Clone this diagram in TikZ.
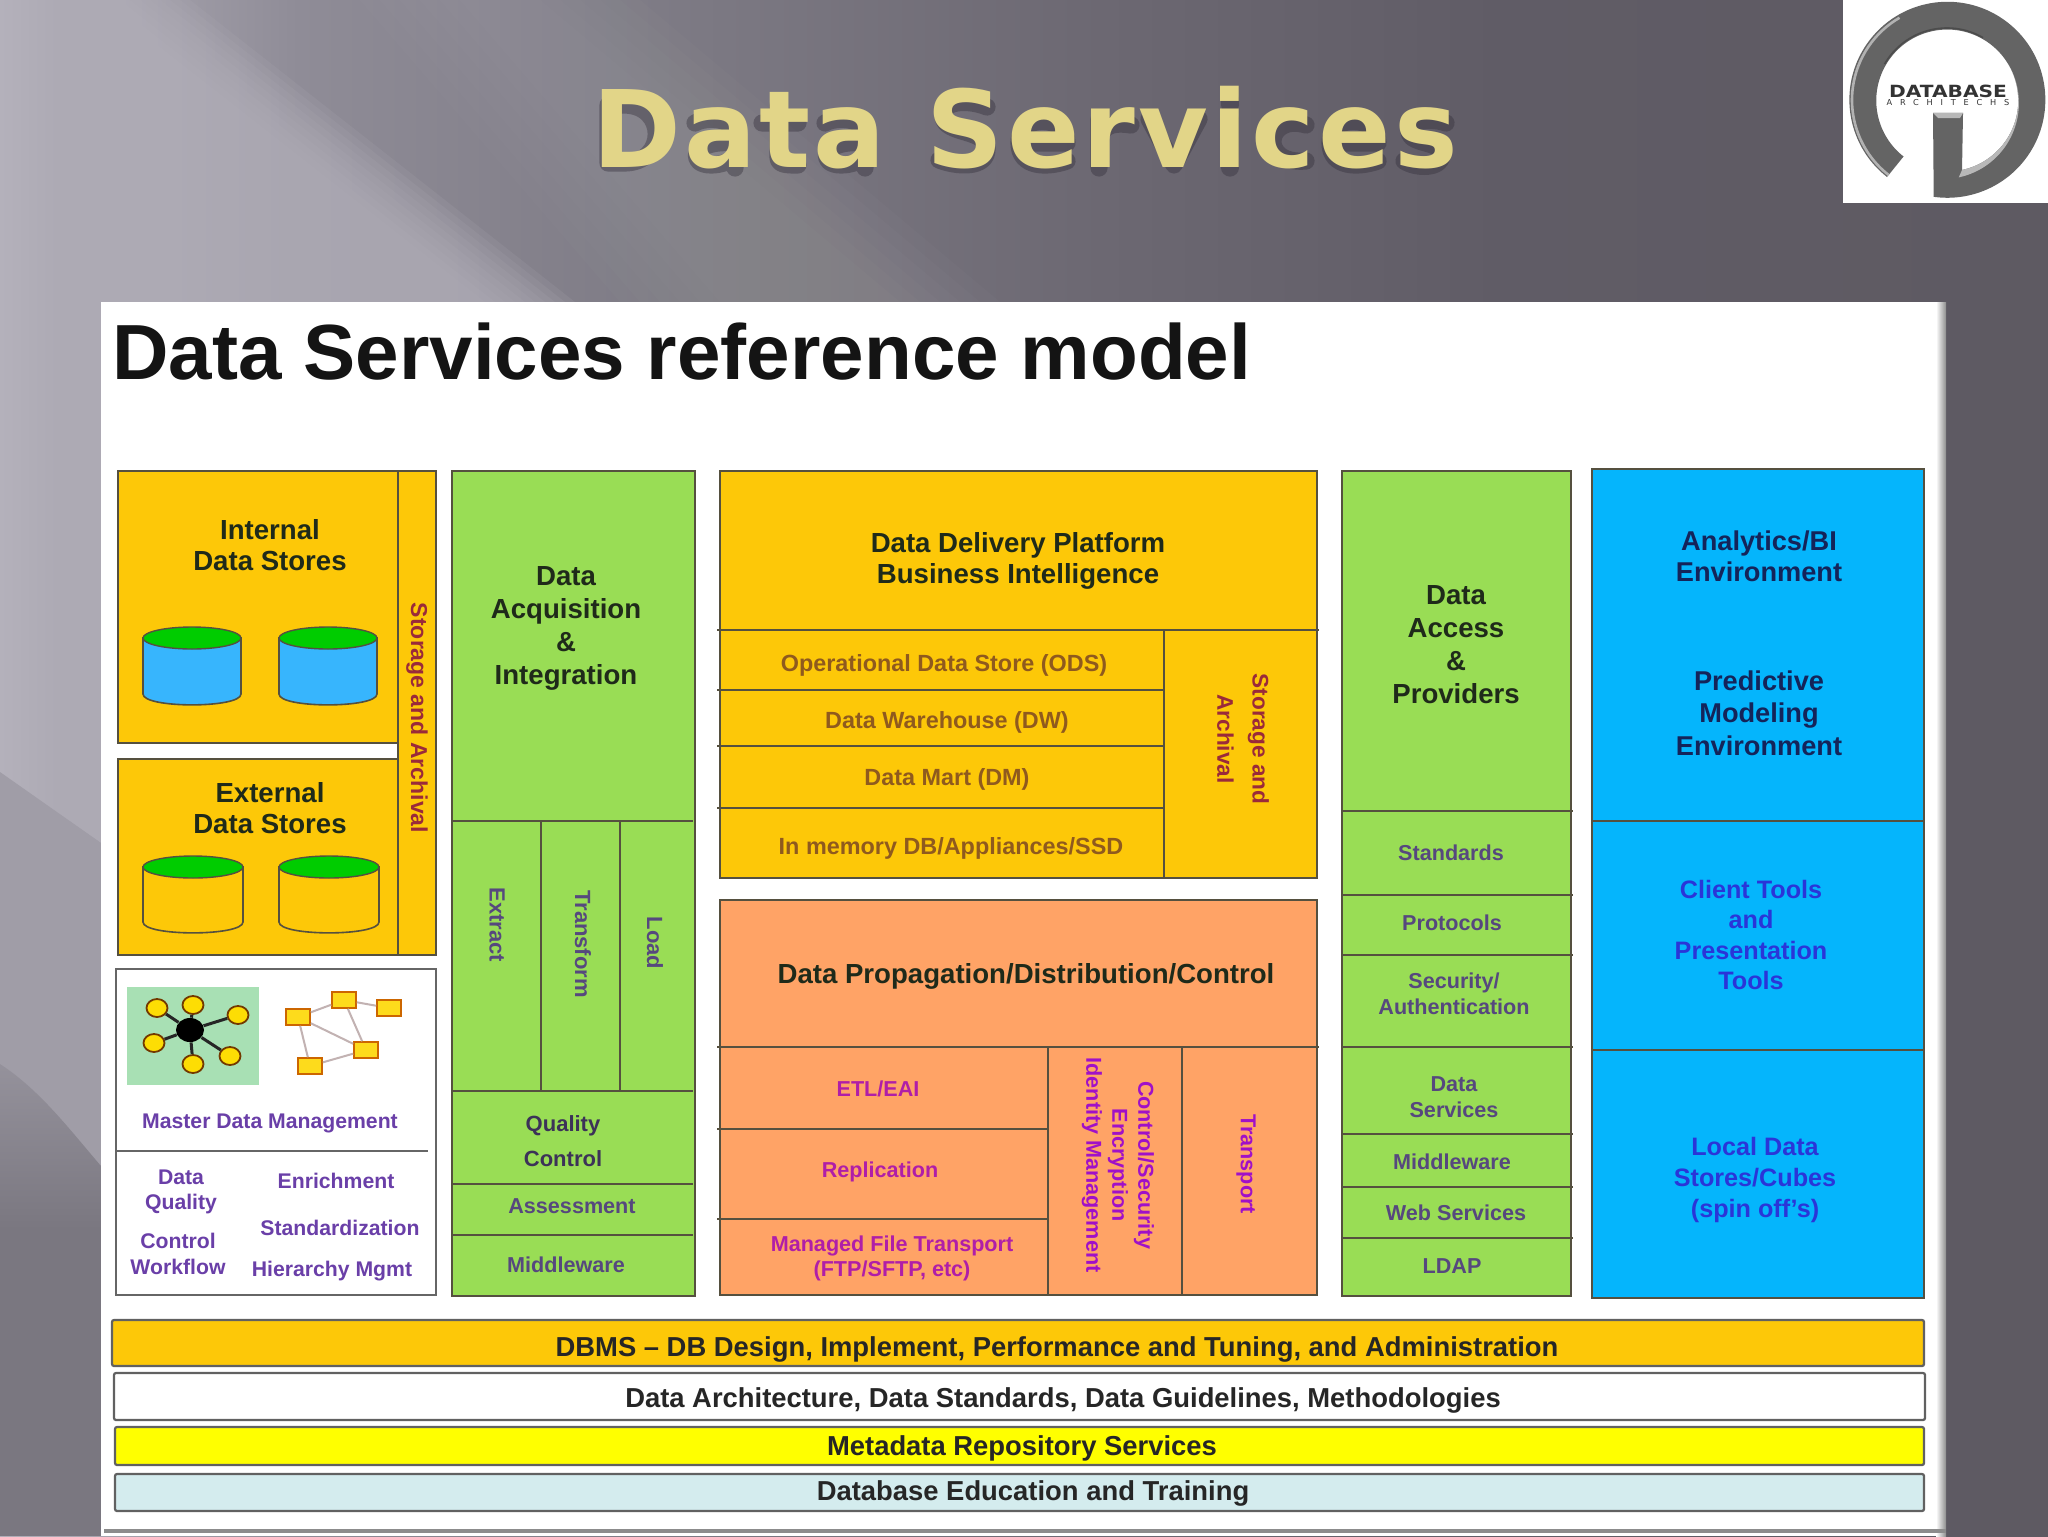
\documentclass[tikz,border=0pt]{standalone}
\usepackage{fontspec}
\setmainfont{Liberation Sans}
\newfontfamily\titlefont[LetterSpace=3]{DejaVu Sans}
\newfontfamily\logofont[FakeStretch=1.2]{DejaVu Sans}
\newfontfamily\logosmall[LetterSpace=95]{DejaVu Sans}
\usetikzlibrary{shadings,shapes.geometric}
\definecolor{cY}{HTML}{FDC808}
\definecolor{cG}{HTML}{99DD55}
\definecolor{cO}{HTML}{FFA366}
\definecolor{cB}{HTML}{05B5FC}
\definecolor{cL}{HTML}{55503F}
\definecolor{cDark}{HTML}{1F2A1A}
\definecolor{cNavy}{HTML}{14245A}
\definecolor{cPurG}{HTML}{56487E}
\definecolor{cPurW}{HTML}{6A3FA8}
\definecolor{cBrY}{HTML}{8F5A1E}
\definecolor{cRedY}{HTML}{9A2A3A}
\definecolor{cMagO}{HTML}{B01EA8}
\definecolor{cMagT}{HTML}{A010C8}
\definecolor{cBlT}{HTML}{2A35D8}
\definecolor{cTitle}{HTML}{E2D588}
\definecolor{cLight}{HTML}{D4ECEE}
\definecolor{cYel}{HTML}{FFFF00}
\definecolor{cRing}{HTML}{646464}
\definecolor{cMdm}{HTML}{A8E0B4}
\definecolor{bgLight}{HTML}{B4B1BB}
\definecolor{bgMid}{HTML}{A09DA7}
\definecolor{bgLow}{HTML}{7A7780}
\definecolor{bgS}{HTML}{8F8C97}
\definecolor{bgT}{HTML}{7C7983}
\definecolor{bgU}{HTML}{6C6872}
\definecolor{bgV}{HTML}{605C66}
\definecolor{bgW}{HTML}{5E5A62}
\definecolor{cShad}{HTML}{35313C}
\pgfdeclarehorizontalshading{bgsh}{100bp}{
  color(0bp)=(bgLight); color(25bp)=(bgLight);
  color(32.3bp)=(bgS);
  color(42.1bp)=(bgT);
  color(51.9bp)=(bgU);
  color(61.6bp)=(bgV);
  color(75bp)=(bgW);
  color(100bp)=(bgW)}
\tikzset{
  x=0.5pt,y=-0.5pt,
  boxL/.style={draw=cL,line width=0.8pt},
  barL/.style={draw=black!62,line width=1.1pt,rounded corners=1pt},
  divL/.style={draw=cL,line width=0.7pt},
  lab/.style={inner sep=0pt,align=center,font=\bfseries\fontsize{#1}{#1}\selectfont},
  mainA/.style={inner sep=0pt,align=center,font=\bfseries\fontsize{13.8}{#1}\selectfont,text=cDark},
  mainN/.style={inner sep=0pt,align=center,font=\bfseries\fontsize{13.6}{#1}\selectfont,text=cNavy},
  barlab/.style={lab=13.7,text=black!85},
  minG/.style={inner sep=0pt,align=center,font=\bfseries\fontsize{10.8}{13}\selectfont,text=cPurG},
  minW/.style={inner sep=0pt,align=center,font=\bfseries\fontsize{10.6}{12.6}\selectfont,text=cPurW},
  minY/.style={lab=11.7,text=cBrY},
  minO/.style={inner sep=0pt,align=center,font=\bfseries\fontsize{10.8}{12.5}\selectfont,text=cMagO},
  blueT/.style={inner sep=0pt,align=center,font=\bfseries\fontsize{12.6}{15.3}\selectfont,text=cBlT},
  netbox/.style={draw=orange!80!black,fill=yellow!75!orange!90!white,minimum width=12pt,minimum height=8pt,inner sep=0pt,line width=.8pt},
  hubsat/.style={ellipse,draw=orange!45!black,fill=yellow!80!orange,minimum width=10.5pt,minimum height=9pt,inner sep=0pt,line width=.9pt},
  shadstroke/.style={draw=cShad,line width=8.6pt,line cap=round,line join=round,opacity=.42},
}
\newcommand\cyl[5]{%
  \pgfmathsetmacro\ymid{#3+11}\pgfmathsetmacro\ylow{#4-11}
  \pgfmathsetmacro\ybez{#4+3.5}\pgfmathsetmacro\cxx{(#1+#2)/2}
  \pgfmathsetmacro\rxx{(#2-#1)/4}
  \filldraw[fill=#5,draw=cL,line width=.8pt] (#1,\ymid) -- (#1,\ylow) .. controls (#1,\ybez) and (#2,\ybez) .. (#2,\ylow) -- (#2,\ymid) -- cycle;
  \filldraw[fill=green!80!black,draw=cL,line width=.7pt] (\cxx,\ymid) ellipse [x radius=\rxx pt,y radius=5.5pt];
}
\newcommand\shadletter[2]{\begin{scope}[shift={(#1,173)}]\draw[shadstroke] #2;\end{scope}}
\begin{document}
\begin{tikzpicture}
\useasboundingbox (0,0) rectangle (2048,1536);
% background
\fill[shading=bgsh,shading angle=0] (0,0) rectangle (2048,1536);
\foreach \d in {0,10,...,90} {
  \fill[bgLight,opacity=.14] (0,0) -- (190-\d,0) -- (575-\d,302) -- (101,302) -- (101,843) -- (0,772) -- cycle;
}
\foreach \d in {0,20,...,100} {
  \fill[white,opacity=.016] (360+\d,0) -- (640-\d,0) -- (1000-\d,302) -- (620+\d,302) -- cycle;
}
\fill[bgMid] (0,772) -- (101,843) -- (101,1536) -- (0,1536) -- cycle;
\shade[top color=bgMid!70!bgLow,bottom color=bgLow] (0,1064) .. controls (40,1090) and (70,1130) .. (101,1166) -- (101,1230) -- (0,1230) -- cycle;
\fill[bgLow] (0,1230) rectangle (101,1536);
% logo
\fill[white] (1843,0) rectangle (2048,203);
\fill[cRing] (1887,177) arc[start angle=232,end angle=-98,radius=49pt]
  -- (1933,113) -- (1963,113) -- (1962,170) arc[start angle=-78,end angle=232,radius=35.5pt] -- cycle;
\fill[white!72!black] (1962,170) arc[start angle=-78,end angle=30,radius=35.5pt] arc[start angle=30,end angle=-78,radius=38pt] -- cycle;
\draw[white!70!black,line width=1.3pt] (1888.5,174.9) arc[start angle=232,end angle=120,radius=47.5pt];
\draw[black!70,line width=.8pt] (1884.6,64) arc[start angle=150,end angle=60,radius=36pt];
\fill[white!72!black] (1933,113) -- (1963,113) -- (1960,118) -- (1938,118) -- cycle;
\node[inner sep=0pt,font=\logofont\bfseries\fontsize{8.4}{9}\selectfont,text=black!80] (logoA) at (1948,91) {DATABASE};
\node[inner sep=0pt,font=\logosmall\fontsize{4.1}{4}\selectfont,text=black!80] (logoB) at (1948,103) {ARCHITECHS};
% title soft shadow (drawn strokes)
\shadletter{589}{(19,-10) -- (19,-68) -- (35,-68) .. controls (78,-68) and (78,-10) .. (35,-10) -- cycle}
\shadletter{681}{(14,-50) .. controls (25,-56) and (50,-56) .. (54,-40) -- (54,-5) (54,-30) .. controls (10,-34) and (6,-8) .. (30,-8) .. controls (40,-8) and (50,-12) .. (54,-16)}
\shadletter{756}{(22,-68) -- (22,-16) .. controls (22,-8) and (30,-8) .. (42,-8) (6,-50) -- (42,-50)}
\shadletter{811}{(14,-50) .. controls (25,-56) and (50,-56) .. (54,-40) -- (54,-5) (54,-30) .. controls (10,-34) and (6,-8) .. (30,-8) .. controls (40,-8) and (50,-12) .. (54,-16)}
\shadletter{927}{(60,-66) .. controls (40,-74) and (14,-72) .. (16,-56) .. controls (18,-38) and (60,-44) .. (60,-24) .. controls (60,-4) and (30,-6) .. (12,-13)}
\shadletter{1007}{(12,-30) -- (60,-30) .. controls (60,-58) and (12,-60) .. (12,-30) .. controls (12,-5) and (40,-5) .. (60,-12)}
\shadletter{1083}{(16,-5) -- (16,-54) (16,-36) .. controls (22,-50) and (35,-50) .. (48,-48)}
\shadletter{1139}{(10,-54) -- (35,-8) -- (60,-54)}
\shadletter{1212}{(18,-5) -- (18,-54) (18,-68) -- (18,-74)}
\shadletter{1252}{(54,-48) .. controls (14,-60) and (6,-8) .. (54,-12)}
\shadletter{1318}{(12,-30) -- (60,-30) .. controls (60,-58) and (12,-60) .. (12,-30) .. controls (12,-5) and (40,-5) .. (60,-12)}
\shadletter{1394}{(52,-50) .. controls (35,-56) and (12,-52) .. (15,-40) .. controls (18,-28) and (48,-32) .. (48,-18) .. controls (48,-4) and (22,-4) .. (10,-12)}
% title
\node[anchor=base,inner sep=0pt,font=\titlefont\bfseries\fontsize{53.5}{55}\selectfont,text=cTitle] (title) at (1025,167) {Data Services};
% panel
\fill[white] (101,302) rectangle (1936,1536);
\shade[left color=white,right color=black!45] (1936,302) rectangle (1946,1536);
\fill[black!45] (104,1529) rectangle (1946,1533);
\node[anchor=base west,inner sep=0pt,font=\bfseries\fontsize{39.1}{40}\selectfont,text=black!92] (head) at (112,379) {Data Services reference model};
% left column
\filldraw[fill=cY,boxL] (118,471) rectangle (398,743);
\filldraw[fill=cY,boxL] (118,759) rectangle (398,955);
\filldraw[fill=cY,boxL] (398,471) rectangle (436,955);
\cyl{143}{241}{627}{705}{blue!10!cB!80!white}
\cyl{279}{377}{627}{705}{blue!10!cB!80!white}
\cyl{143}{243}{856}{933}{cY}
\cyl{279}{379}{856}{933}{cY}
\node[mainA=15.7] (intS) at (270,545) {Internal\\Data Stores};
\node[mainA=15.7] (extS) at (270,808) {External\\Data Stores};
\node[lab=11.5,rotate=-90,text=cRedY] (stL) at (417,718) {Storage and Archival};
% MDM box
\filldraw[fill=white,draw=black!60,line width=.8pt] (116,969) rectangle (436,1295);
\draw[draw=black!60,line width=.7pt] (117,1151) -- (428,1151);
\fill[cMdm] (127,987) rectangle (259,1085);
\node[ellipse,fill=black,minimum width=14pt,minimum height=12pt,inner sep=0pt] (hub) at (190,1030) {};
\node[hubsat] (s1) at (157,1008) {};
\node[hubsat] (s2) at (193,1005) {};
\node[hubsat] (s3) at (238,1015) {};
\node[hubsat] (s4) at (154,1043) {};
\node[hubsat] (s5) at (230,1056) {};
\node[hubsat] (s6) at (193,1064) {};
\foreach \s in {s1,s2,s3,s4,s5,s6} \draw[black!85,line width=1.5pt] (hub) -- (\s);
\node[netbox] (n1) at (298,1017) {};
\node[netbox] (n2) at (344,1000) {};
\node[netbox] (n3) at (389,1008) {};
\node[netbox] (n4) at (366,1050) {};
\node[netbox] (n5) at (310,1066) {};
\foreach \a/\b in {n1/n2,n2/n3,n1/n4,n2/n4,n1/n5,n5/n4} \draw[red!20!black!30,line width=1pt] (\a) -- (\b);
\node[minW] (mdm) at (270,1123) {Master Data Management};
\node[minW] (dq) at (181,1192) {Data\\Quality};
\node[minW] (cw) at (178,1254) {Control\\Workflow};
\node[minW] (enr) at (336,1181) {Enrichment};
\node[minW] (std) at (340,1228) {Standardization};
\node[minW] (hm) at (332,1271) {Hierarchy Mgmt};
% acquisition
\filldraw[fill=cG,boxL] (452,471) rectangle (695,1296);
\draw[divL] (452,821) -- (693,821) (452,1091) -- (693,1091) (452,1184) -- (693,1184) (452,1235) -- (693,1235);
\draw[divL] (541,821) -- (541,1091) (620,821) -- (620,1091);
\node[mainA=16.5] (daq) at (566,628) {Data\\Acquisition\\\&\\Integration};
\node[lab=11,rotate=-90,text=cPurG] (ex) at (497,925) {Extract};
\node[lab=11,rotate=-90,text=cPurG] (tr) at (583,944) {Transform};
\node[lab=11,rotate=-90,text=cPurG] (lo) at (655,943) {Load};
\node[inner sep=0pt,align=center,font=\bfseries\fontsize{11}{17.6}\selectfont,text=cPurG!70!black] (qc) at (563,1141) {Quality\\Control};
\node[minG] (as) at (572,1206) {Assessment};
\node[minG] (mw) at (566,1265) {Middleware};
% delivery
\filldraw[fill=cY,boxL] (720,471) rectangle (1317,878);
\draw[divL] (717,630) -- (1319,630) (717,690) -- (1164,690) (717,746) -- (1164,746) (717,808) -- (1164,808) (1164,630) -- (1164,878);
\node[mainA=15.7] (ddp) at (1018,561) {Data Delivery Platform\\Business Intelligence};
\node[minY] (ods) at (944,665) {Operational Data Store (ODS)};
\node[minY] (dw) at (947,722) {Data Warehouse (DW)};
\node[minY] (dm) at (947,779) {Data Mart (DM)};
\node[minY] (imd) at (951,848) {In memory DB/Appliances/SSD};
\node[inner sep=0pt,align=center,rotate=-90,font=\bfseries\fontsize{11.3}{17.6}\selectfont,text=cRedY] (sa2) at (1243,739) {Storage and\\Archival};
% propagation
\filldraw[fill=cO,boxL] (720,900) rectangle (1317,1295);
\draw[divL] (717,1047) -- (1319,1047) (717,1129) -- (1048,1129) (717,1219) -- (1048,1219) (1048,1047) -- (1048,1295) (1182,1047) -- (1182,1295);
\node[mainA=15.7] (prop) at (1026,976) {Data Propagation/Distribution/Control};
\node[minO] (etl) at (878,1089) {ETL/EAI};
\node[minO] (rep) at (880,1172) {Replication};
\node[minO] (mft) at (892,1258) {Managed File Transport\\(FTP/SFTP, etc)};
\node[inner sep=0pt,align=center,rotate=-90,font=\bfseries\fontsize{10.8}{13}\selectfont,text=cMagT] (csi) at (1118,1165) {Control/Security\\Encryption\\Identity Management};
\node[lab=10.8,rotate=-90,text=cMagT] (tp) at (1246,1164) {Transport};
% access
\filldraw[fill=cG,boxL] (1342,471) rectangle (1571,1296);
\draw[divL] (1342,811) -- (1573,811) (1342,895) -- (1573,895) (1342,955) -- (1573,955) (1342,1047) -- (1573,1047) (1342,1134) -- (1573,1134) (1342,1187) -- (1573,1187) (1342,1238) -- (1573,1238);
\node[mainA=16.5] (dap) at (1456,645) {Data\\Access\\\&\\Providers};
\node[minG] (stds) at (1451,853) {Standards};
\node[minG] (prot) at (1452,923) {Protocols};
\node[minG] (sec) at (1454,994) {Security/\\Authentication};
\node[minG] (dsv) at (1454,1097) {Data\\Services};
\node[minG] (mw2) at (1452,1162) {Middleware};
\node[minG] (ws) at (1456,1213) {Web Services};
\node[minG] (ld) at (1452,1266) {LDAP};
% blue
\filldraw[fill=cB,boxL] (1592,469) rectangle (1924,1298);
\draw[divL] (1592,821) -- (1924,821) (1592,1050) -- (1924,1050);
\node[mainN=15.7] (abi) at (1759,556) {Analytics/BI\\Environment};
\node[mainN=16.3] (pme) at (1759,713) {Predictive\\Modeling\\Environment};
\node[blueT] (ctp) at (1751,935) {Client Tools\\and\\Presentation\\Tools};
\node[blueT] (lds) at (1755,1180) {Local Data\\Stores/Cubes\\(spin off's)};
% bars
\filldraw[fill=cY,barL] (112,1320) rectangle (1924,1366);
\filldraw[fill=white,barL] (114,1373) rectangle (1925,1420);
\filldraw[fill=cYel,barL] (115,1427) rectangle (1924,1465);
\filldraw[fill=cLight,barL] (115,1474) rectangle (1924,1511);
\node[barlab] (b1) at (1057,1349) {DBMS – DB Design, Implement, Performance and Tuning, and Administration};
\node[barlab] (b2) at (1063,1400) {Data Architecture, Data Standards, Data Guidelines, Methodologies};
\node[barlab] (b3) at (1022,1448) {Metadata Repository Services};
\node[barlab] (b4) at (1033,1493) {Database Education and Training};
\end{tikzpicture}
\end{document}
